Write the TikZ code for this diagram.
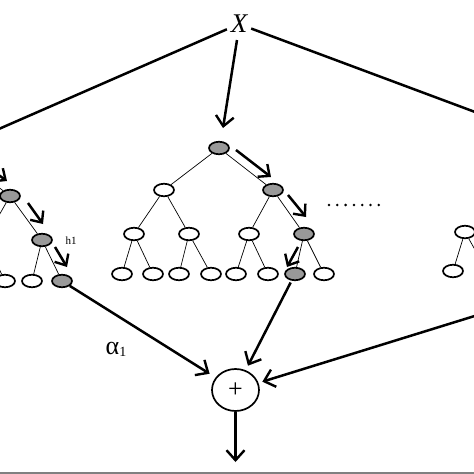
\documentclass[tikz,border=0pt]{standalone}
\usepackage{fontspec}
\setmainfont{Liberation Serif}
\usetikzlibrary{arrows.meta,shapes.geometric}

\begin{document}
\begin{tikzpicture}[
    x=1pt, y=-1pt,
    every node/.style={inner sep=0pt},
    leaf/.style={
      draw, ellipse, line width=1.7pt,
      fill=white,
      minimum width=20pt,
      minimum height=12.5pt
    },
    active/.style={leaf, fill=gray!80},
    branch/.style={draw, line width=0.7pt},
    hop/.style={draw, line width=2.5pt,
      -{Straight Barb[length=9pt,width=16pt,line width=2.4pt]}},
    link/.style={draw, line width=2.5pt},
    linkto/.style={link,
      -{Straight Barb[length=10pt,width=18pt,line width=2.4pt]}},
    label style/.style={font=\fontsize{11}{11}\selectfont}
  ]
  \useasboundingbox (0,0) rectangle (474,474);
  \clip (0,0) rectangle (474,474);

  % Input and sum
  \node (X) at (239,24) {\fontsize{27}{27}\selectfont\itshape X};
  \node[draw, ellipse, line width=1.7pt, minimum width=47pt, minimum height=42pt]
    (plus) at (235.5,390) {\fontsize{26}{26}\selectfont +};
  \coordinate (lin) at (-30,141.6);
  \coordinate (rin) at (500,121.3);
  \coordinate (rout) at (494,310);
  \coordinate (out) at (235.5,462);

  % Left tree (cut by the frame)
  \node[active] (l0) at (-45,154) {};
  \node[active] (l1) at (10,196) {};
  \node[leaf] (l2a) at (-15,240) {};
  \node[active] (l2) at (42,240) {};
  \node[leaf] (l3a) at (-25,281) {};
  \node[leaf] (l3b) at (5,281) {};
  \node[leaf] (l3c) at (32,281) {};
  \node[active] (l3) at (62,281) {};
  \node[label style] (h1) at (71,241) {h1};

  % Middle tree
  \node[active] (mroot) at (219,148) {};
  \node[leaf] (m1a) at (164,190) {};
  \node[active] (m1b) at (273,190) {};
  \node[leaf] (m2a) at (134,234) {};
  \node[leaf] (m2b) at (189,234) {};
  \node[leaf] (m2c) at (249,234) {};
  \node[active] (m2d) at (304,234) {};
  \node[leaf] (m3a) at (122,274) {};
  \node[leaf] (m3b) at (153,274) {};
  \node[leaf] (m3c) at (179,274) {};
  \node[leaf] (m3d) at (211,274) {};
  \node[leaf] (m3e) at (236,274) {};
  \node[leaf] (m3f) at (268,274) {};
  \node[active] (m3g) at (295,274) {};
  \node[leaf] (m3h) at (324,274) {};

  % Right tree (cut by the frame)
  \node[leaf] (r2) at (465,232) {};
  \node[leaf] (r3a) at (453,271) {};
  \node[leaf] (r3b) at (487,271) {};

  % dots between trees
  \foreach \i in {0,...,6}
    \fill (329+8.3*\i,205) circle (1.4pt);

  % tree branches
  \foreach \a/\b in {l0/l1, l1/l2a, l1/l2, l2a/l3a, l2a/l3b, l2/l3c, l2/l3,
      mroot/m1a, mroot/m1b, m1a/m2a, m1a/m2b, m1b/m2c, m1b/m2d,
      m2a/m3a, m2a/m3b, m2b/m3c, m2b/m3d, m2c/m3e, m2c/m3f, m2d/m3g, m2d/m3h,
      r2/r3a, r2/r3b}
    \draw[branch] (\a) -- (\b);

  % search path arrows
  \draw[hop] ([shift={(17,2)}]l0.center) -- ([shift={(-3,-15)}]l1.center);
  \draw[hop] ([shift={(18,7)}]l1.center) -- ([shift={(1,-16)}]l2.center);
  \draw[hop] ([shift={(13,7)}]l2.center) -- ([shift={(5,-14)}]l3.center);
  \draw[hop] ([shift={(17,2)}]mroot.center) -- ([shift={(-2,-13)}]m1b.center);
  \draw[hop] ([shift={(15,5)}]m1b.center) -- ([shift={(2,-17)}]m2d.center);
  \draw[hop] ([shift={(-6,13)}]m2d.center) -- ([shift={(-8,-7)}]m3g.center);

  % connectors
  \draw[link, shorten <=4pt] (X) -- (lin);
  \draw[link, shorten <=4pt] (X) -- (rin);
  \draw[linkto] ([shift={(-2,16)}]X.center) -- ([shift={(4,-20)}]mroot.center);
  \draw[linkto, shorten >=7pt] (l3) -- (plus);
  \draw[linkto, shorten <=2pt, shorten >=5pt] (m3g) -- (plus);
  \draw[linkto, shorten >=4pt] (rout) -- (plus);
  \draw[linkto] (plus) -- (out);
  \node (alpha) at (116,349) {\fontsize{26}{26}\selectfont α\raisebox{-2pt}{\fontsize{14}{14}\selectfont 1}};

  % frame edge
  \fill[gray] (0,471.5) rectangle (474,474);
\end{tikzpicture}
\end{document}
